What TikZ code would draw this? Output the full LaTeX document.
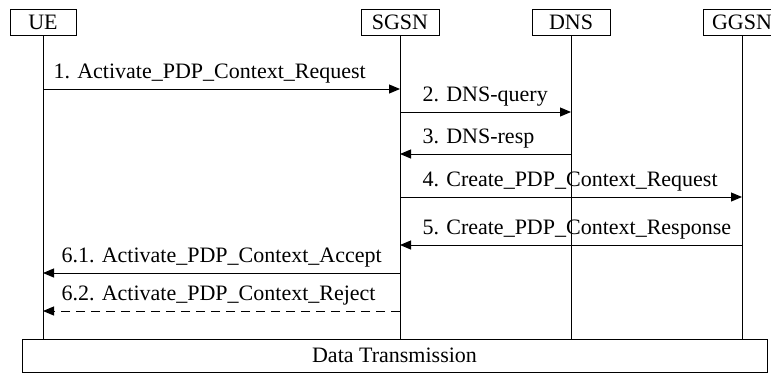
\documentclass[tikz,border=0pt]{standalone}
\usepackage{fontspec}
\setmainfont{Liberation Serif}
\usetikzlibrary{arrows.meta}

\begin{document}
\begin{tikzpicture}[x=1pt, y=-1pt,
  actor/.style={draw, line width=1pt, minimum width=78pt, minimum height=26pt, inner sep=0pt, font=\fontsize{22}{24}\selectfont},
  life/.style={line width=1pt},
  msg/.style={line width=1pt, -{Triangle[length=11pt, width=9pt]}},
  lbl/.style={anchor=base west, inner sep=0pt, yshift=11pt, font=\fontsize{22}{24}\selectfont}]

\useasboundingbox (0,0) rectangle (771,373);

% Teilnehmer
\node[actor, minimum width=66pt] (ue) at (43,22) {UE};
\node[actor] (sgsn) at (400,22) {SGSN};
\node[actor] (dns) at (571,22) {DNS};
\node[actor] (ggsn) at (742,22) {GGSN};

% Datenuebertragung
\node[draw, line width=1pt, minimum width=745pt, minimum height=33pt, inner sep=0pt, font=\fontsize{22}{24}\selectfont] (data) at (394.5,355.5) {Data Transmission};

% Lebenslinien
\foreach \n in {ue,sgsn,dns,ggsn}
  \draw[life] (\n.south) -- (\n.south |- data.north);

% Nachrichten
\draw[msg] (ue |- 0,89) -- node[lbl, at start, xshift=10pt] (m1) {1. Activate\_PDP\_Context\_Request} (sgsn |- 0,89);
\draw[msg] (sgsn |- 0,112) -- node[lbl, at start, xshift=22pt] (m2) {2. DNS-query} (dns |- 0,112);
\draw[msg] (dns |- 0,154) -- node[lbl, at end, xshift=22pt] (m3) {3. DNS-resp} (sgsn |- 0,154);
\draw[msg] (sgsn |- 0,197) -- node[lbl, at start, xshift=22pt] (m4) {4. Create\_PDP\_Context\_Request} (ggsn |- 0,197);
\draw[msg] (ggsn |- 0,245) -- node[lbl, at end, xshift=22pt] (m5) {5. Create\_PDP\_Context\_Response} (sgsn |- 0,245);
\draw[msg] (sgsn |- 0,273) -- node[lbl, at end, xshift=18pt] (m61) {6.1. Activate\_PDP\_Context\_Accept} (ue |- 0,273);
\draw[msg, dash pattern=on 9pt off 6pt] (sgsn |- 0,311) -- node[lbl, at end, xshift=18pt] (m62) {6.2. Activate\_PDP\_Context\_Reject} (ue |- 0,311);
\end{tikzpicture}
\end{document}
